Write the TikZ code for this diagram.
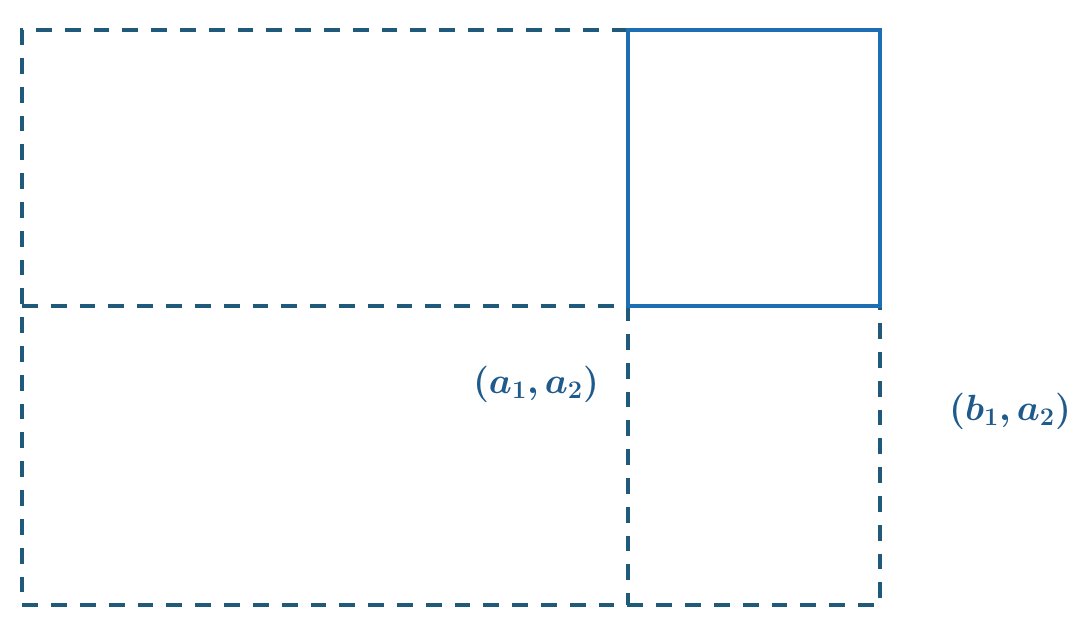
\documentclass[tikz,border=0pt]{standalone}
\usepackage{amsmath}
\usepackage{bm}
\usetikzlibrary{positioning}

\definecolor{dashteal}{HTML}{1F5A7A}
\definecolor{solidblue}{HTML}{1E6EB4}
\definecolor{labelblue}{HTML}{1F5A8C}

\begin{document}
\begin{tikzpicture}[
            x=0.02cm, y=-0.02cm,
            dashline/.style={draw=dashteal, line width=2.2pt, dash pattern=on 9pt off 7.4pt},
            solidline/.style={draw=solidblue, line width=2.2pt},
            pointlabel/.style={text=labelblue, font=\fontsize{21}{25}\selectfont, inner sep=0pt},
            ]
            \useasboundingbox (0,0) rectangle (1087,624);

            %Corners
            \coordinate (tl) at (22,30);
            \coordinate (tm) at (628,30);
            \coordinate (tr) at (880,30);
            \coordinate (ml) at (22,306);
            \coordinate (mm) at (628,306);
            \coordinate (mr) at (880,306);
            \coordinate (bl) at (22,605);
            \coordinate (bm) at (628,605);
            \coordinate (br) at (880,605);

            %Lines
            \draw[dashline] (tm) -- (tl) -- (bl) -- (br) -- (mr);
            \draw[dashline] (ml) -- (mm) -- (bm);
            \draw[solidline] (tm) rectangle (mr);

            %Labels
            \node[pointlabel] (aa) at (536,384) {$\bm{(a_1,a_2)}$};
            \node[pointlabel] (ba) at (1010,411) {$\bm{(b_1,a_2)}$};

        \end{tikzpicture}
\end{document}
